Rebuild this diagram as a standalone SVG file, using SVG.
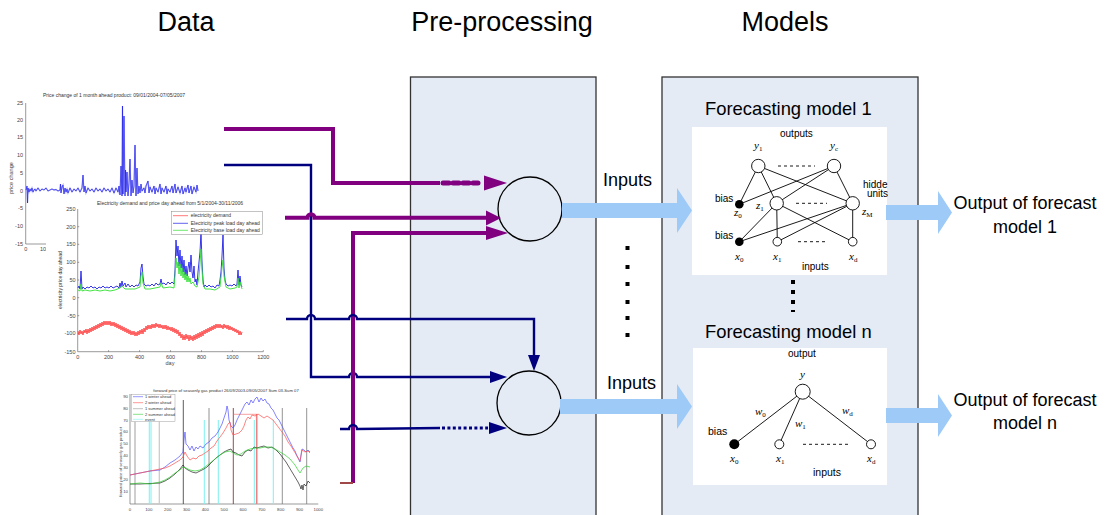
<svg xmlns="http://www.w3.org/2000/svg" width="1110" height="515" viewBox="0 0 1110 515">
<defs>
<style>
.title{font-family:"Liberation Sans",Arial,sans-serif;font-size:27px;fill:#000}
.lbl{font-family:"Liberation Sans",Arial,sans-serif;font-size:18px;fill:#000}
.nn{font-family:"Liberation Sans",Arial,sans-serif;font-size:10px;fill:#000}
.sym{font-family:"Liberation Serif","Times New Roman",serif;font-style:italic;font-size:11px;fill:#000}
.sub{font-size:7px;font-style:normal}
.tiny{font-family:"Liberation Sans",Arial,sans-serif;font-size:5px;fill:#333}
.tk{font-family:"Liberation Sans",Arial,sans-serif;font-size:5.5px;fill:#444}
.panel{fill:#E4EBF5;stroke:#333;stroke-width:1.3}
.pl{fill:none;stroke:#800080;stroke-width:4}
.pd{fill:none;stroke:#800080;stroke-width:5;stroke-dasharray:6 4;stroke-linecap:round}
.ph{fill:#800080}
.nv{fill:none;stroke:#00007F;stroke-width:2.4}
.nd{fill:none;stroke:#00007F;stroke-width:3;stroke-dasharray:3 2.4}
.nh{fill:#00007F}
.big{fill:#9ECAF8}
.edge{stroke:#000;stroke-width:0.9;fill:none}
.unit{fill:#fff;stroke:#000;stroke-width:0.9}
.bias{fill:#000}
.dash{stroke:#000;stroke-width:0.9;stroke-dasharray:3 3}
.ax{stroke:#555;stroke-width:0.6;fill:none}
.comb{fill:none;stroke:#000;stroke-width:1.3}
.dot{fill:#000}
</style>
</defs>

<!-- column headings -->
<text class="title" x="186" y="31" text-anchor="middle">Data</text>
<text class="title" x="502" y="31" text-anchor="middle">Pre-processing</text>
<text class="title" x="785" y="31" text-anchor="middle">Models</text>

<!-- chart: monthly price change -->
<g id="data-price-change">
<text class="tiny" x="114" y="97" text-anchor="middle">Price change of 1 month ahead product: 09/01/2004-07/05/2007</text>
<path class="ax" d="M25.7,103 V244 H60"/>
<g class="tk" text-anchor="end">
<text x="23" y="105">25</text><text x="23" y="122">20</text><text x="23" y="139">15</text><text x="23" y="157">10</text>
<text x="23" y="174.5">5</text><text x="23" y="192.5">0</text><text x="23" y="210">-5</text><text x="23" y="228">-10</text><text x="23" y="246">-15</text>
</g>
<text class="tk" x="25.7" y="251" text-anchor="middle">0</text>
<text class="tk" x="43" y="251" text-anchor="middle">10</text>
<text class="tk" transform="translate(13,178) rotate(-90)" text-anchor="middle">price change</text>
<path d="M26,190 L27,186 L27.5,203 L28,188 L29,192 L30,189 L31,191 L32,188 L33,192 L34,190 L35,189 L36,191 L38,188 L40,191 L42,189 L44,190 L46,188 L48,191 L50,190 L52,189 L54,190 L56,189.5 L58,191 L60,190 L60.5,184 L61,193 L62,187 L63,185 L64,194 L65,188 L66,192 L67,189 L68,193 L70,188 L72,192 L74,189 L76,191 L78,188 L80,192 L82,188 L83,175 L84,192 L85,186 L86,193 L88,188 L90,191 L92,189 L94,192 L96,188 L98,191 L100,189 L102,192 L104,188 L106,191 L108,189 L110,192 L112,188 L114,193 L116,188 L118,192 L119,186 L120,195 L121,166 L122,196 L122.5,106 L123,194 L124,116 L125,196 L125.5,170 L126,192 L127,172 L128,196 L129,183 L130,159 L131,196 L132,180 L133,193 L134,186 L135,145 L136,196 L137,168 L138,194 L139,186 L140,193 L141,184 L142,191 L144,188 L145,193 L146,186 L148,181 L149,193 L150,187 L152,192 L154,186 L155,194 L156,188 L158,192 L160,184 L161,194 L162,188 L164,192 L166,186 L167,194 L168,189 L170,192 L172,186 L173,193 L175,184 L176,193 L178,187 L180,193 L182,186 L183,194 L185,188 L186,192 L188,185 L189,193 L191,186 L192,194 L194,187 L196,192 L197,185 L198,191" fill="none" stroke="#A8A8FF" stroke-width="1.3"/>
<path d="M26,190 L27,186 L27.5,203 L28,188 L29,192 L30,189 L31,191 L32,188 L33,192 L34,190 L35,189 L36,191 L38,188 L40,191 L42,189 L44,190 L46,188 L48,191 L50,190 L52,189 L54,190 L56,189.5 L58,191 L60,190 L60.5,184 L61,193 L62,187 L63,185 L64,194 L65,188 L66,192 L67,189 L68,193 L70,188 L72,192 L74,189 L76,191 L78,188 L80,192 L82,188 L83,175 L84,192 L85,186 L86,193 L88,188 L90,191 L92,189 L94,192 L96,188 L98,191 L100,189 L102,192 L104,188 L106,191 L108,189 L110,192 L112,188 L114,193 L116,188 L118,192 L119,186 L120,195 L121,166 L122,196 L122.5,106 L123,194 L124,116 L125,196 L125.5,170 L126,192 L127,172 L128,196 L129,183 L130,159 L131,196 L132,180 L133,193 L134,186 L135,145 L136,196 L137,168 L138,194 L139,186 L140,193 L141,184 L142,191 L144,188 L145,193 L146,186 L148,181 L149,193 L150,187 L152,192 L154,186 L155,194 L156,188 L158,192 L160,184 L161,194 L162,188 L164,192 L166,186 L167,194 L168,189 L170,192 L172,186 L173,193 L175,184 L176,193 L178,187 L180,193 L182,186 L183,194 L185,188 L186,192 L188,185 L189,193 L191,186 L192,194 L194,187 L196,192 L197,185 L198,191" fill="none" stroke="#0000E0" stroke-width="0.5"/>
</g>

<!-- chart: electricity demand and day-ahead price -->
<g id="data-electricity">
<rect x="46" y="198" width="222" height="168" fill="#fff"/>
<text class="tiny" x="170" y="205" text-anchor="middle">Electricity demand and price day ahead from 5/1/2004-30/11/2006</text>
<path class="ax" d="M77.7,209 V351.7 H263.3"/>
<path class="ax" d="M77.7,226.7 h1.5 M77.7,244.3 h1.5 M77.7,262.3 h1.5 M77.7,280 h1.5 M77.7,297.7 h1.5 M77.7,315.7 h1.5 M77.7,333.3 h1.5 M108.6,351.7 v-1.5 M139.6,351.7 v-1.5 M170.5,351.7 v-1.5 M201.5,351.7 v-1.5 M232.4,351.7 v-1.5 M263.3,351.7 v-1.5"/>
<g class="tk" text-anchor="end">
<text x="75.5" y="211">250</text><text x="75.5" y="228.7">200</text><text x="75.5" y="246.3">150</text><text x="75.5" y="264.3">100</text>
<text x="75.5" y="282">50</text><text x="75.5" y="299.7">0</text><text x="75.5" y="317.7">-50</text><text x="75.5" y="335.3">-100</text><text x="75.5" y="353.7">-150</text>
</g>
<g class="tk" text-anchor="middle">
<text x="77.7" y="359">0</text><text x="108.6" y="359">200</text><text x="139.6" y="359">400</text><text x="170.5" y="359">600</text>
<text x="201.5" y="359">800</text><text x="232.4" y="359">1000</text><text x="263.3" y="359">1200</text>
<text x="170" y="365">day</text>
</g>
<text class="tiny" transform="translate(62,280) rotate(-90)" text-anchor="middle">electricity price day ahead</text>
<path d="M78,331 L79,335 L80,330 L81,334 L82,331 L83,335 L84,330 L85,333 L86,329 L87,334 L88,329 L89,333 L90,328 L91,332 L92,327 L93,331 L94,326 L95,330 L96,325 L97,329 L98,324 L99,328 L100,323 L101,327 L102,322 L103,326 L104,321 L105,325 L106,321 L107,325 L108,321 L109,325 L110,321 L111,326 L112,322 L113,326 L114,322 L115,327 L116,323 L117,328 L118,324 L119,329 L120,325 L121,330 L122,326 L123,331 L124,327 L125,332 L126,328 L127,333 L128,329 L129,334 L130,330 L131,335 L132,331 L133,335 L134,331 L135,336 L136,332 L137,336 L138,331 L139,335 L140,330 L141,334 L142,329 L143,334 L144,328 L145,332 L146,326 L147,330 L148,325 L149,329 L150,325 L151,329 L152,324 L153,328 L154,324 L155,328 L156,323 L157,327 L158,324 L159,328 L160,324 L161,328 L162,325 L163,329 L164,325 L165,329 L166,325 L167,330 L168,326 L169,330 L170,327 L171,331 L172,327 L173,332 L174,328 L175,333 L176,329 L177,334 L178,330 L179,336 L180,332 L181,338 L182,334 L183,340 L184,335 L185,340 L186,334 L187,339 L188,335 L189,341 L190,335 L191,340 L192,336 L193,341 L194,335 L195,340 L196,334 L197,339 L198,333 L199,338 L200,332 L201,337 L202,331 L203,336 L204,330 L205,334 L206,329 L207,333 L208,328 L209,332 L210,327 L211,331 L212,326 L213,330 L214,325 L215,329 L216,324 L217,328 L218,324 L219,328 L220,324 L221,328 L222,325 L223,329 L224,324 L225,328 L226,325 L227,329 L228,325 L229,330 L230,326 L231,330 L232,327 L233,331 L234,328 L235,332 L236,329 L237,333 L238,330 L239,335 L240,331 L241,335 L242,332" fill="none" stroke="#FF4040" stroke-width="0.9"/>
<path d="M78,288 L79,286 L80,289 L81,271 L82,289 L83,287 L85,289 L87,287 L89,288 L91,286 L93,288 L95,287 L97,289 L99,287 L101,288 L103,286 L105,288 L107,287 L109,288 L111,286 L113,288 L115,287 L117,286 L119,288 L120,283 L121,287 L122,281 L123,286 L125,283 L126,287 L128,284 L130,287 L132,285 L134,287 L136,285 L138,286 L140,282 L141,268 L142,264 L143,277 L144,284 L146,286 L148,285 L150,286 L152,284 L154,286 L156,283 L158,285 L160,284 L161,279 L162,284 L164,283 L166,285 L168,282 L170,284 L172,282 L174,284 L175,270 L176,240 L177,256 L178,246 L179,266 L180,250 L181,268 L182,256 L183,272 L184,260 L185,275 L186,266 L187,276 L188,268 L189,262 L190,272 L191,255 L192,272 L193,278 L194,266 L195,282 L196,279 L197,285 L198,272 L199,262 L200,252 L201,232 L202,262 L203,280 L204,287 L205,285 L207,287 L209,285 L211,287 L213,286 L215,288 L217,285 L219,286 L220,280 L221,272 L222,256 L223,235 L224,268 L225,280 L226,284 L228,286 L230,285 L232,286 L234,284 L236,286 L237,284 L238,270 L239,285 L240,276 L241,285 L242,287" fill="none" stroke="#2020E8" stroke-width="0.9"/>
<path d="M78,290 L80,291 L81,284 L82,291 L85,290 L90,291 L95,290 L100,291 L105,290 L110,291 L115,290 L120,288 L122,286 L125,289 L130,289 L135,289 L140,287 L141,276 L142,272 L143,283 L145,289 L150,289 L155,288 L160,287 L161,283 L163,288 L170,287 L174,288 L175,276 L176,258 L177,268 L178,262 L179,274 L180,264 L181,276 L182,268 L183,278 L184,272 L185,280 L186,274 L187,282 L188,276 L189,282 L190,278 L191,284 L193,282 L195,286 L197,287 L199,277 L200,264 L201,249 L202,270 L203,284 L205,289 L210,289 L215,290 L220,287 L222,268 L223,260 L224,276 L226,287 L230,289 L235,288 L237,287 L238,278 L239,288 L240,282 L242,289" fill="none" stroke="#30E030" stroke-width="0.9"/>
<rect x="171.7" y="211.7" width="90.6" height="22.6" fill="#fff" stroke="#888" stroke-width="0.5"/>
<path d="M173,215.7 h15" stroke="#FF4040" stroke-width="0.7"/>
<path d="M173,223.3 h15" stroke="#2020E8" stroke-width="0.7"/>
<path d="M173,230.3 h15" stroke="#30E030" stroke-width="0.7"/>
<g class="tiny">
<text x="190.7" y="217.4">electricity demand</text>
<text x="190.7" y="225">Electricity peak load day ahead</text>
<text x="190.7" y="232">Electricity base load day ahead</text>
</g>
</g>

<!-- chart: seasonal gas forward prices -->
<g id="data-gas">
<rect x="112" y="385" width="220" height="130" fill="#fff"/>
<text class="tiny" x="226" y="391.5" text-anchor="middle" style="font-size:4.2px">forward price of seasonly gas product 26/09/2003-09/05/2007 Sum 03-Sum 07</text>
<path class="ax" d="M130,394 V504 H318.3"/>
<g class="tk" text-anchor="end" style="font-size:4.3px">
<text x="128" y="397.5">90</text><text x="128" y="409.5">80</text><text x="128" y="421.5">70</text><text x="128" y="433">60</text>
<text x="128" y="444.5">50</text><text x="128" y="456.5">40</text><text x="128" y="469">30</text><text x="128" y="480.5">20</text><text x="128" y="492.5">10</text>
</g>
<g class="tk" text-anchor="middle" style="font-size:4.3px">
<text x="130" y="511">0</text><text x="148.8" y="511">100</text><text x="167.7" y="511">200</text><text x="186.5" y="511">300</text>
<text x="205.3" y="511">400</text><text x="224.2" y="511">500</text><text x="243" y="511">600</text><text x="261.8" y="511">700</text>
<text x="280.7" y="511">800</text><text x="299.5" y="511">900</text><text x="318.3" y="511">1000</text>
</g>
<text class="tk" transform="translate(122,462) rotate(-90)" text-anchor="middle" style="font-size:4.2px">forward price of seasonly gas product</text>
<!-- event markers -->
<g fill="none">
<path d="M135,395 V504" stroke="#777" stroke-width="0.7"/>
<path d="M149.3,420 V504 M151,420 V504 M204.3,420 V504 M218.3,420 V504 M254.3,420 V504 M273.3,420 V504" stroke="#7FF0F0" stroke-width="1"/>
<path d="M159.3,420 V504" stroke="#C8C8C8" stroke-width="1.2"/>
<path d="M183.3,400 V504" stroke="#333" stroke-width="0.8"/>
<path d="M209,408 V504 M282.3,408 V504 M306.7,408 V504" stroke="#777" stroke-width="0.8"/>
<path d="M233.3,408 V504" stroke="#7A2020" stroke-width="0.8"/>
<path d="M256.7,414 V504" stroke="#F08080" stroke-width="1.6"/>
<path d="M233,414.3 H257" stroke="#F06060" stroke-width="0.6"/>
</g>
<path d="M130,475 L135,474 L140,473 L145,472 L150,471 L155,470.5 L160,470 L165,467 L170,463 L175,460 L180,456 L183,452 L184,440 L185,432 L186,444 L188,446 L190,450 L192,446 L194,451 L196,447 L198,449 L200,446 L203,448 L206,444 L209,442 L212,438 L215,436 L218,432 L220,428 L222,424 L224,418 L226,412 L227,406 L228,410 L229,420 L231,426 L233,428 L235,425 L237,420 L239,416 L241,412 L243,408 L245,404 L247,402 L249,405 L251,400 L253,403 L255,399 L257,397 L259,402 L261,398 L263,401 L265,399 L267,403 L269,404 L271,408 L273,410 L275,414 L277,418 L279,420 L281,424 L283,428 L285,432 L287,436 L289,440 L291,444 L293,448 L295,451 L297,456 L299,460 L300,462 L301,455 L302,449 L304,450 L306,452 L308,450 L310,452" fill="none" stroke="#5050FF" stroke-width="0.7"/>
<path d="M130,475 L135,474 L140,473 L145,472 L150,471 L155,470 L160,469 L165,468 L170,466 L175,463 L180,460 L183,457 L185,452 L187,456 L190,460 L193,458 L196,459 L199,456 L202,455 L205,453 L208,451 L211,448 L214,446 L217,441 L220,437 L223,433 L226,428 L228,424 L230,422 L231,430 L233,435 L236,434 L239,433 L242,430 L244,426 L246,420 L248,417 L250,419 L252,415 L255,416 L258,414 L261,416 L264,418 L267,416 L270,418 L273,420 L276,424 L279,428 L282,432 L285,436 L288,442 L291,446 L294,451 L297,456 L300,461 L301,456 L302,450 L305,452 L308,451 L310,453" fill="none" stroke="#FF5050" stroke-width="0.7"/>
<path d="M130,484 L140,484 L150,483.5 L160,483 L165,481 L170,478 L175,474 L180,469 L183,465 L185,468 L188,470 L192,472 L196,473 L200,471 L204,469 L207,467 L210,464 L213,461 L216,458 L220,455 L224,452 L228,450 L231,449 L233,452 L236,453 L239,455 L242,456 L245,452 L248,450 L251,451 L254,447 L257,448 L260,447 L264,446 L268,448 L272,447 L276,450 L280,454 L283,458 L286,462 L289,467 L292,472 L295,477 L298,482 L300,486 L301,489 L302,485 L303,490 L304,484 L306,486 L308,481 L310,483" fill="none" stroke="#222" stroke-width="0.7"/>
<path d="M130,484 L140,483 L150,484 L160,482 L165,480 L170,477 L175,473 L180,470 L183,467 L186,468 L190,470 L195,471 L200,470 L205,467 L210,463 L215,459 L220,455 L225,452 L230,451 L233,453 L237,455 L241,454 L245,451 L250,449 L255,448 L260,448 L265,447 L270,447 L275,449 L280,452 L285,455 L290,459 L295,465 L298,470 L300,473 L303,468 L306,466 L310,467" fill="none" stroke="#30D030" stroke-width="0.7"/>
<rect x="131.7" y="394.3" width="43.3" height="27.4" fill="#fff" stroke="#888" stroke-width="0.4"/>
<path d="M133,396.7 h10" stroke="#5050FF" stroke-width="0.6"/>
<path d="M133,402.7 h10" stroke="#FF5050" stroke-width="0.6"/>
<path d="M133,408.7 h10" stroke="#999" stroke-width="0.6"/>
<path d="M133,414.3 h10" stroke="#30D030" stroke-width="0.6"/>
<path d="M133,419.3 h10" stroke="#7FF0F0" stroke-width="0.6"/>
<g class="tiny" style="font-size:4px">
<text x="145" y="398">1 winter ahead</text>
<text x="145" y="404">2 winter ahead</text>
<text x="145" y="410">1 summer ahead</text>
<text x="145" y="415.6">2 summer ahead</text>
<text x="145" y="420.6">event</text>
</g>
</g>

<!-- stage panels -->
<rect id="panel-preprocessing" class="panel" x="410.5" y="77" width="185.5" height="450"/>
<rect id="panel-models" class="panel" x="662" y="77" width="256" height="450"/>

<!-- combining nodes -->
<g id="node-combine-1"><circle class="comb" cx="530" cy="209" r="32"/></g>
<g id="node-combine-n"><circle class="comb" cx="529" cy="403" r="32"/></g>

<!-- connectors from the data series -->
<g id="connectors">
<path class="pl" d="M224,129 H333 V183 H440"/>
<path class="pd" d="M443,183 H478"/>
<polygon class="ph" points="484,175.5 507,183 484,190.5"/>
<path class="nv" d="M224,165 H311 V377 H349 a4,4 0 0 1 8,0 H491"/>
<polygon class="nh" points="490,371 507,377 490,383"/>
<path class="pl" d="M285,217.7 H307.5 a3.5,3.5 0 0 1 7,0 H488"/>
<polygon class="ph" points="486,210.5 501,218 486,225.5"/>
<path class="pl" d="M353,483 V233 H488"/>
<polygon class="ph" points="486,226 508,233 486,240"/>
<path d="M340,483 H353" stroke="#A04848" stroke-width="2" fill="none"/>
<path class="nv" d="M286,319 H307 a4,4 0 0 1 8,0 H349 a4,4 0 0 1 8,0 H534 V356"/>
<polygon class="nh" points="528,355 534,371 540,355"/>
<path class="nv" d="M340,429 H349 a4,4 0 0 1 8,0 L440,428"/>
<path class="nd" d="M442,428 H488"/>
<polygon class="nh" points="489,422 507,428 489,434"/>
</g>

<!-- inputs into the models -->
<g id="inputs-1">
<path class="big" d="M562,203 H677 V188 L692,210.5 L677,233 V218 H562 Z"/>
<text class="lbl" x="603" y="186">Inputs</text>
</g>
<g id="inputs-n">
<path class="big" d="M560,399 H677 V384 L692,406.5 L677,429 V414 H560 Z"/>
<text class="lbl" x="607" y="389">Inputs</text>
</g>
<g id="ellipsis-preprocessing">
<rect class="dot" x="625.5" y="246" width="4" height="4"/>
<rect class="dot" x="625.5" y="265" width="4" height="4"/>
<rect class="dot" x="625.5" y="282" width="4" height="4"/>
<rect class="dot" x="625.5" y="300" width="4" height="4"/>
<rect class="dot" x="625.5" y="316" width="4" height="4"/>
<rect class="dot" x="625.5" y="333" width="4" height="4"/>
</g>

<!-- forecasting model 1: two-layer network -->
<g id="model-1">
<text class="lbl" x="705" y="115" style="font-size:18.4px">Forecasting model 1</text>
<rect x="692" y="127" width="195" height="148" fill="#fff"/>
<text class="nn" x="780" y="137">outputs</text>
<g class="edge">
<path d="M758.3,166 L739.3,204.3 M758.3,166 L776.7,203.3 M758.3,166 L852.7,203.3"/>
<path d="M834,166 L739.3,204.3 M834,166 L776.7,203.3 M834,166 L852.7,203.3"/>
<path d="M739.3,241.7 L776.7,203.3 M739.3,241.7 L852.7,203.3"/>
<path d="M777.3,241.7 L776.7,203.3 M777.3,241.7 L852.7,203.3"/>
<path d="M852.7,241.7 L776.7,203.3 M852.7,241.7 L852.7,203.3"/>
</g>
<path class="dash" d="M778,166 H815 M796,203.3 H827 M798,241.7 H827"/>
<circle class="unit" cx="758.3" cy="166" r="6.7"/>
<circle class="unit" cx="834" cy="166" r="6.7"/>
<circle class="unit" cx="776.7" cy="203.3" r="6.7"/>
<circle class="unit" cx="852.7" cy="203.3" r="6.7"/>
<circle class="bias" cx="739.3" cy="204.3" r="4.3"/>
<circle class="bias" cx="739.3" cy="241.7" r="4.3"/>
<circle class="unit" cx="777.3" cy="241.7" r="4.3"/>
<circle class="unit" cx="852.7" cy="241.7" r="4.3"/>
<text class="nn" x="715" y="202">bias</text>
<text class="nn" x="715" y="239">bias</text>
<text class="nn" x="863" y="188">hidde</text>
<text class="nn" x="867" y="197">units</text>
<text class="nn" x="802" y="270">inputs</text>
<text class="sym" x="754" y="149">y<tspan class="sub" dy="1.5">1</tspan></text>
<text class="sym" x="830" y="149">y<tspan class="sub" dy="1.5">c</tspan></text>
<text class="sym" x="734" y="216">z<tspan class="sub" dy="1.5">0</tspan></text>
<text class="sym" x="756" y="209">z<tspan class="sub" dy="1.5">1</tspan></text>
<text class="sym" x="862" y="215">z<tspan class="sub" dy="1.5">M</tspan></text>
<text class="sym" x="735" y="260">x<tspan class="sub" dy="1.5">0</tspan></text>
<text class="sym" x="773" y="260">x<tspan class="sub" dy="1.5">1</tspan></text>
<text class="sym" x="849" y="260">x<tspan class="sub" dy="1.5">d</tspan></text>
</g>

<g id="ellipsis-models">
<rect class="dot" x="791" y="280" width="4" height="4"/>
<rect class="dot" x="791" y="290" width="4" height="4"/>
<rect class="dot" x="791" y="300" width="4" height="4"/>
<rect class="dot" x="791" y="310" width="4" height="2"/>
</g>

<!-- forecasting model n: single-layer network -->
<g id="model-n">
<text class="lbl" x="705" y="338" style="font-size:18.4px">Forecasting model n</text>
<rect x="693" y="348" width="194" height="137" fill="#fff"/>
<text class="nn" x="788" y="357">output</text>
<path class="edge" d="M802.7,391.7 L734.3,444.3 M802.7,391.7 L779.3,444.3 M802.7,391.7 L871,444.3"/>
<path class="dash" d="M803,444.3 H849"/>
<circle class="unit" cx="802.7" cy="391.7" r="7.5"/>
<circle class="bias" cx="734.3" cy="444.3" r="5"/>
<circle class="unit" cx="779.3" cy="444.3" r="4.5"/>
<circle class="unit" cx="871" cy="444.3" r="4.5"/>
<text class="nn" x="708" y="435" style="font-size:10.5px">bias</text>
<text class="nn" x="813" y="476" style="font-size:10.5px">inputs</text>
<text class="sym" x="800" y="378">y</text>
<text class="sym" x="755" y="415">w<tspan class="sub" dy="1.5">0</tspan></text>
<text class="sym" x="795" y="427">w<tspan class="sub" dy="1.5">1</tspan></text>
<text class="sym" x="842" y="414">w<tspan class="sub" dy="1.5">d</tspan></text>
<text class="sym" x="730" y="462">x<tspan class="sub" dy="1.5">0</tspan></text>
<text class="sym" x="776" y="462">x<tspan class="sub" dy="1.5">1</tspan></text>
<text class="sym" x="867" y="462">x<tspan class="sub" dy="1.5">d</tspan></text>
</g>

<!-- model outputs -->
<g id="output-1">
<path class="big" d="M886,205 H938 V191 L952,212.5 L938,234 V220 H886 Z"/>
<text class="lbl" x="1025" y="209" text-anchor="middle">Output of forecast</text>
<text class="lbl" x="1025" y="233" text-anchor="middle">model 1</text>
</g>
<g id="output-n">
<path class="big" d="M886,408 H938 V394 L952,415.5 L938,437 V423 H886 Z"/>
<text class="lbl" x="1025" y="406" text-anchor="middle">Output of forecast</text>
<text class="lbl" x="1025" y="429" text-anchor="middle">model n</text>
</g>
</svg>
